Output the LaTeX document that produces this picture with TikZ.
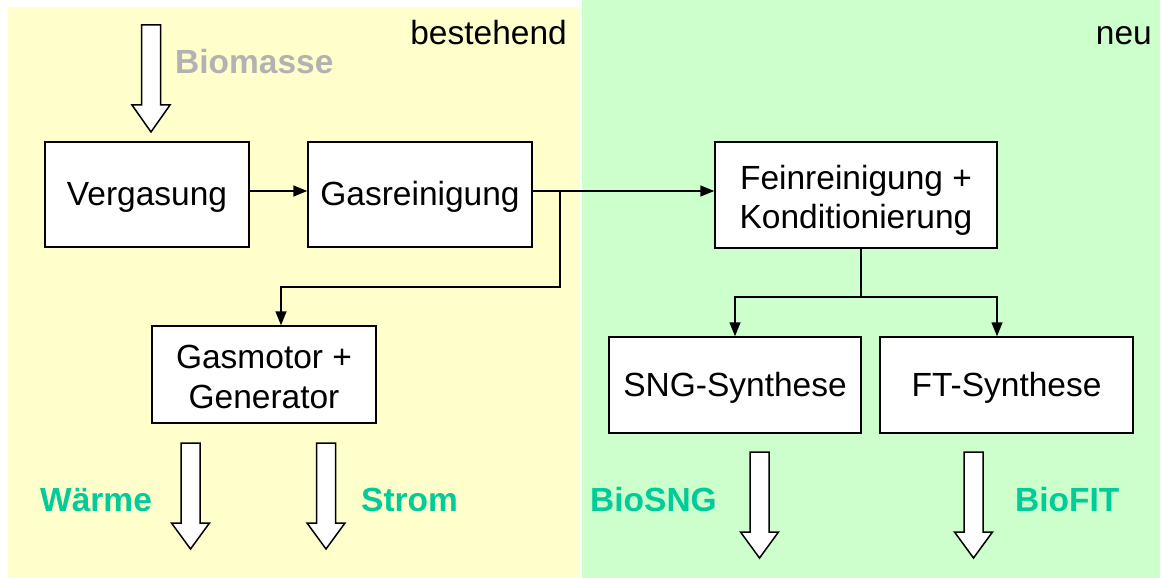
\documentclass[tikz,border=0pt]{standalone}
\usepackage{fontspec}
\setmainfont{Liberation Sans}
\usetikzlibrary{arrows.meta}
\definecolor{bgyellow}{HTML}{FFFFCC}
\definecolor{bggreen}{HTML}{CCFFCC}
\definecolor{labelgreen}{HTML}{00CC99}
\definecolor{biogray}{HTML}{B2B2B2}
\newcommand{\fatarrow}[5]{%
  \draw[fat] (#1-9.5,#2) -- (#1+9.5,#2) -- (#1+9.5,#3) -- (#1+#5,#3) -- (#1,#4) -- (#1-#5,#3) -- (#1-9.5,#3) -- cycle;}
\begin{document}
\begin{tikzpicture}[x=1pt,y=-1pt,
  box/.style={draw, fill=white, line width=1.5pt, inner sep=0pt, align=center, text height=29.5pt, text depth=7pt, font=\fontsize{33.5}{39.5}\selectfont},
  conn/.style={line width=1.5pt, -{Triangle[length=14pt,width=11pt]}},
  plainline/.style={line width=1.5pt},
  fat/.style={draw, fill=white, line width=1.5pt, line join=miter},
  lbl/.style={inner sep=0pt, anchor=base west, font=\fontsize{33.5}{39.5}\selectfont\bfseries, text=labelgreen},
  txt/.style={inner sep=0pt, font=\fontsize{33.5}{39.5}\selectfont}]
\useasboundingbox (0,0) rectangle (1163,578);
\fill[bgyellow] (8,7) rectangle (579,578);
\fill[bggreen] (582,0) rectangle (1160,578);

\node[txt, anchor=base east] (best) at (567,45) {bestehend};
\node[txt, anchor=base east] (neu) at (1152,45) {neu};

\node[box, minimum width=204pt, minimum height=105pt] (verg) at (147,194.5) {Vergasung};
\node[box, minimum width=224pt, minimum height=105pt] (gas) at (420,194.5) {Gasreinigung};
\node[box, minimum width=282pt, minimum height=106pt, text height=73pt, text depth=7pt, font=\fontsize{33.5}{39}\selectfont] (fein) at (856,195) {Feinreinigung +\\Konditionierung};
\node[box, minimum width=224pt, minimum height=97pt, text height=67pt, text depth=0pt] (motor) at (264,374.5) {Gasmotor +\\Generator};
\node[box, minimum width=252pt, minimum height=96pt] (sng) at (735,385) {SNG-Synthese};
\node[box, minimum width=253pt, minimum height=96pt] (ft) at (1006.5,385) {FT-Synthese};

\coordinate (br) at (560,191);
\coordinate (mj) at (281,287);
\coordinate (fj) at (861,297);
\coordinate (sj) at (735,297);
\coordinate (tj) at (997,297);

\draw[conn] (verg.east |- br) -- (gas.west |- br);
\draw[conn] (gas.east |- br) -- (fein.west |- br);
\draw[conn] (br) |- (mj) -- (mj |- motor.north);
\draw[plainline] (fein.south -| fj) -- (fj);
\draw[conn] (fj) -- (sj) -- (sj |- sng.north);
\draw[conn] (fj) -- (tj) -- (tj |- ft.north);

\fatarrow{151}{25}{105}{132}{19}
\fatarrow{190.5}{443}{523}{549}{19}
\fatarrow{326}{443}{523}{549}{19}
\fatarrow{759.5}{452}{532}{558}{19}
\fatarrow{973.5}{452}{532}{558}{19}

\node[lbl, text=biogray] (bio) at (175,74) {Biomasse};
\node[lbl] (waerme) at (40,511) {Wärme};
\node[lbl] (strom) at (361,511) {Strom};
\node[lbl] (biosng) at (590,511) {BioSNG};
\node[lbl] (biofit) at (1015,511) {BioFIT};
\end{tikzpicture}
\end{document}
